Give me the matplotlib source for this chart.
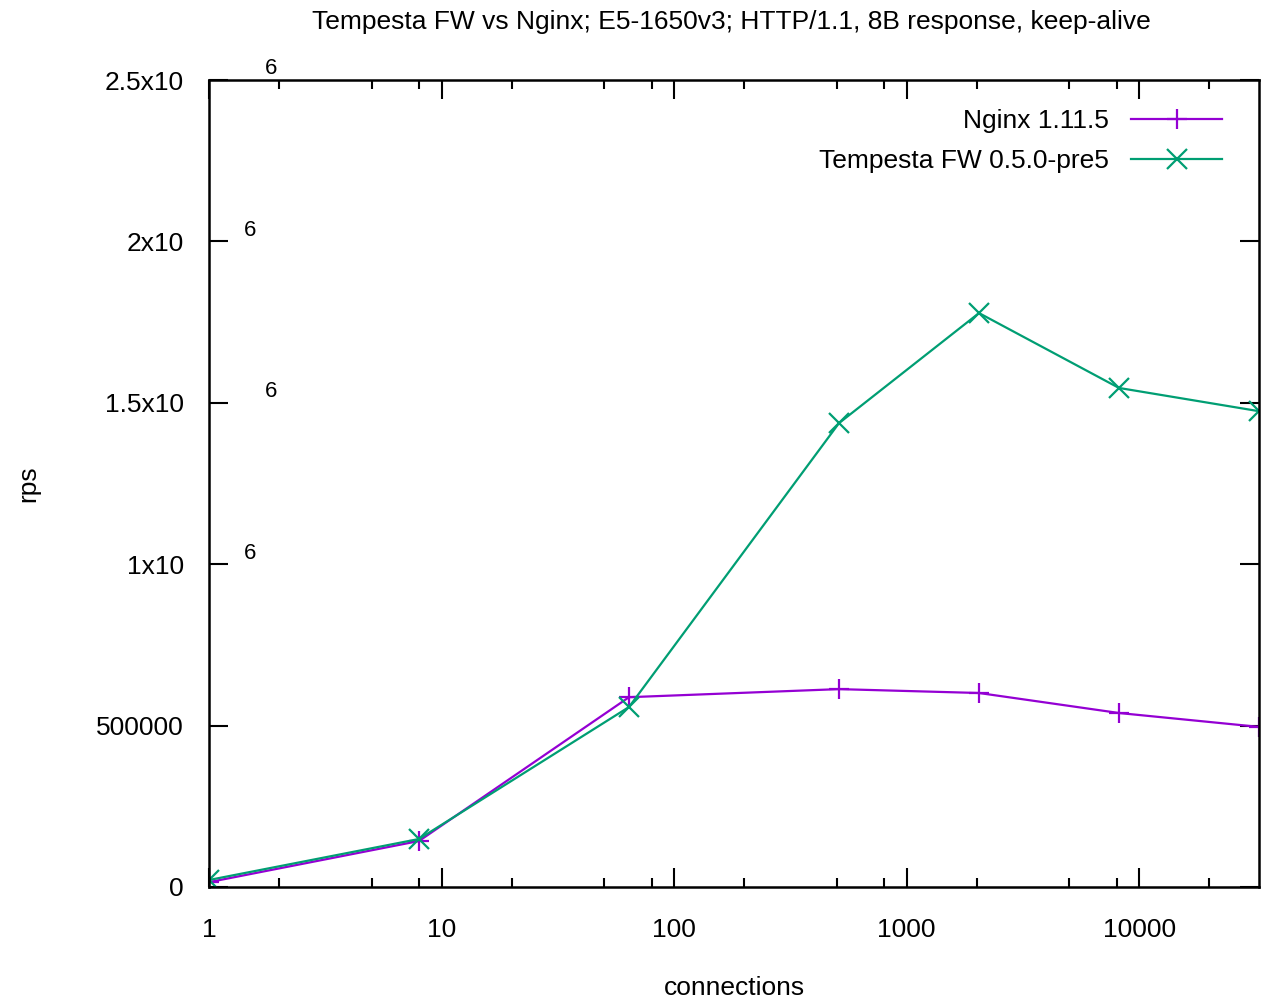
import numpy as np
import matplotlib
matplotlib.use("Agg")
import matplotlib.pyplot as plt
import matplotlib.transforms as mtransforms
from matplotlib.ticker import FixedLocator, NullFormatter

plt.rcParams['font.family'] = ['Liberation Sans', 'DejaVu Sans']

connections = [1, 8, 64, 512, 2048, 8192, 32768]
nginx_rps = [15000, 142500, 588000, 613000, 601000, 539000, 496000]
tempesta_rps = [21700, 148700, 557600, 1437000, 1778000, 1546000, 1474000]

series_labels = ["Nginx 1.11.5", "Tempesta FW 0.5.0-pre5"]
title = "Tempesta FW vs Nginx; E5-1650v3; HTTP/1.1, 8B response, keep-alive"
xlabel = "connections"
ylabel = "rps"

x_major = [1, 10, 100, 1000, 10000]
x_major_labels = ["1", "10", "100", "1000", "10000"]
x_minor = [m * d for d in [1, 10, 100, 1000, 10000] for m in (2, 5, 8)]
y_ticks = [0, 500000, 1000000, 1500000, 2000000, 2500000]
y_tick_labels = ["0", "500000", "1x10", "1.5x10", "2x10", "2.5x10"]
y_exp_labels = [None, None, "6", "6", "6", "6"]
y_exp_xfrac = [None, None, 0.039, 0.059, 0.039, 0.059]

FS = 19

W, H = 1261, 1001
fig = plt.figure(figsize=(W / 100, H / 100), dpi=100)
ax = fig.add_axes([209 / W, 1 - 887 / H, (1259 - 209) / W, (887 - 80) / H])

ax.plot(connections, nginx_rps, color="#9400D3", lw=1.6, marker="+",
        markersize=14, markeredgewidth=1.6, label=series_labels[0])
ax.plot(connections, tempesta_rps, color="#009E73", lw=1.6, marker="x",
        markersize=14, markeredgewidth=1.6, label=series_labels[1])

ax.set_xscale("log")
ax.set_xlim(1, 32768)
ax.set_ylim(0, 2500000)

ax.xaxis.set_major_locator(FixedLocator(x_major))
ax.set_xticklabels(x_major_labels)
ax.xaxis.set_minor_locator(FixedLocator(x_minor))
ax.xaxis.set_minor_formatter(NullFormatter())
ax.set_yticks(y_ticks)
ax.set_yticklabels(y_tick_labels)

ax.tick_params(axis="both", which="both", direction="in", top=True, right=True,
               labelsize=FS, width=1.5, colors="black")
ax.tick_params(axis="both", which="major", length=13.5)
ax.tick_params(axis="both", which="minor", length=6.5)
ax.tick_params(axis="x", which="major", pad=22.5)
ax.tick_params(axis="y", which="major", pad=18)
ax.tick_params(axis="y", which="minor", left=False, right=False)

for s in ax.spines.values():
    s.set_linewidth(1.8)

# detached exponents of the y tick labels (as in the original gnuplot output)
trans = mtransforms.blended_transform_factory(ax.transAxes, ax.transData)
for yv, e, xf in zip(y_ticks, y_exp_labels, y_exp_xfrac):
    if e is None:
        continue
    ax.annotate(e, xy=(xf, yv), xycoords=trans, xytext=(0, 11),
                textcoords="offset pixels", ha="center", va="center",
                fontsize=16, annotation_clip=False)

ax.set_xlabel(xlabel, fontsize=FS, labelpad=24.5)
ax.set_ylabel(ylabel, fontsize=FS, labelpad=40.5)
fig.text(731 / W, 1 - 22 / H, title, ha="center", va="center", fontsize=FS)

leg = ax.legend(loc="upper right", bbox_to_anchor=(0.9648, 0.964),
                frameon=False, fontsize=FS, markerfirst=False,
                handlelength=3.45, handletextpad=0.83, labelspacing=0.61,
                borderaxespad=0, borderpad=0)

fig.savefig("out.png", dpi=100)
